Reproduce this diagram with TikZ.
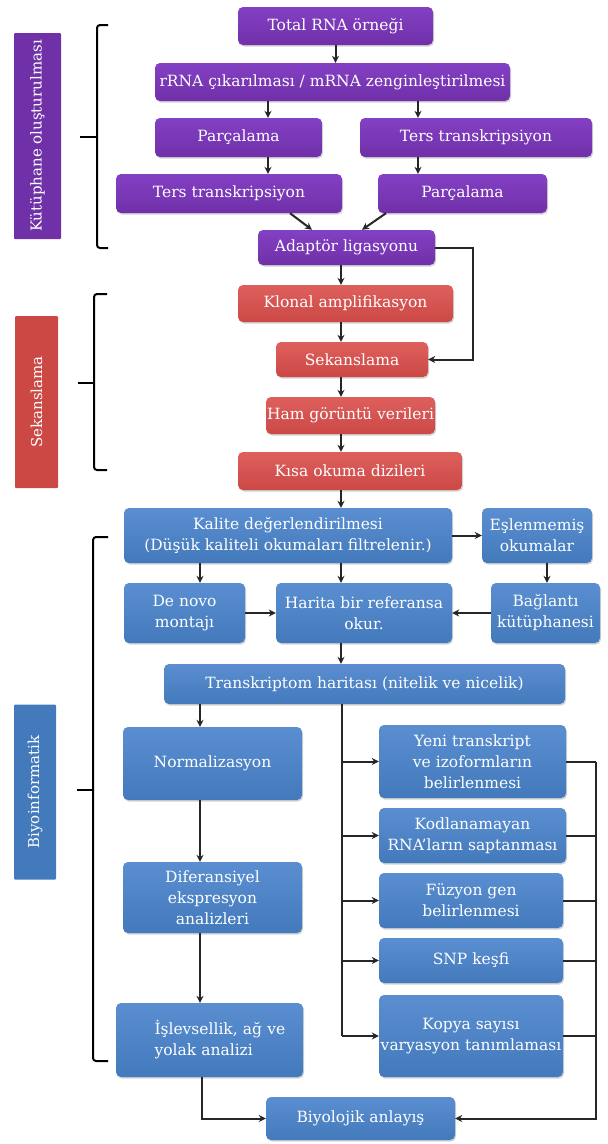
\documentclass[tikz,border=0pt]{standalone}
\usepackage{fontspec}
\setmainfont{DejaVu Serif}
\usetikzlibrary{arrows.meta,shadows}
\definecolor{purp}{HTML}{7030A8}
\definecolor{purpT}{HTML}{8340C4}
\definecolor{redb}{HTML}{CB4845}
\definecolor{redT}{HTML}{DE605D}
\definecolor{blueb}{HTML}{437ABC}
\definecolor{blueT}{HTML}{5A8ED0}
\definecolor{ln}{HTML}{262626}
\newcommand{\zw}[1]{\makebox[0pt][c]{#1}}
\begin{document}
\begin{tikzpicture}[x=1pt,y=-1pt,
  box/.style={rounded corners=5pt, text=white, align=center, inner sep=1pt,
    font=\fontsize{15.5}{21}\selectfont,
    drop shadow={opacity=0.35, shadow xshift=1pt, shadow yshift=-1.5pt}},
  pbox/.style={box, top color=purpT, bottom color=purp},
  rbox/.style={box, top color=redT, bottom color=redb},
  bbox/.style={box, top color=blueT, bottom color=blueb},
  lab/.style={rotate=90, rounded corners=1pt, text=white, inner sep=1pt,
    font=\fontsize{15}{18}\selectfont},
  arr/.style={draw=ln, line width=2pt, -{Stealth[length=7pt,width=7pt]}},
  lin/.style={draw=ln, line width=2pt},
  brk/.style={draw=black, line width=2pt, rounded corners=3pt}]
\useasboundingbox[fill=white] (0,0) rectangle (608,1144);

% guides
\coordinate (g200) at (200,0);
\coordinate (g202) at (202,0);
\coordinate (g268) at (268,0);
\coordinate (g418) at (418,0);
\coordinate (g341) at (341,0);
\coordinate (g342) at (342,0);
\coordinate (g473) at (473,0);
\coordinate (g547) at (547,0);
\coordinate (g596) at (596,0);
\coordinate (g290) at (290,0);
\coordinate (g312) at (312,0);
\coordinate (g386) at (386,0);
\coordinate (g362) at (362,0);

% labels
\node[lab, fill=purp, minimum width=206pt, minimum height=47pt] (lab1) at (37.5,136) {Kütüphane oluşturulması};
\node[lab, fill=redb, minimum width=172pt, minimum height=43pt] (lab2) at (36.5,402) {Sekanslama};
\node[lab, fill=blueb, minimum width=175pt, minimum height=42pt] (lab3) at (35,792) {Biyoinformatik};

% brackets
\draw[brk] (108,25) -- (97,25) -- (97,248) -- (108,248);
\draw[brk] (97,137) -- (80,137);
\draw[brk] (107,294) -- (94,294) -- (94,470) -- (107,470);
\draw[brk] (94,383) -- (78,383);
\draw[brk] (108,537) -- (93,537) -- (93,1061) -- (108,1061);
\draw[brk] (93,790) -- (77,790);

% library prep
\node[pbox, minimum width=195pt, minimum height=38pt] (total) at (335.5,26) {Total RNA örneği};
\node[pbox, minimum width=355pt, minimum height=38pt] (rrna) at (332.5,82) {\zw{rRNA çıkarılması / mRNA zenginleştirilmesi}};
\node[pbox, minimum width=167pt, minimum height=39pt] (parcL) at (238.5,137.5) {Parçalama};
\node[pbox, minimum width=232pt, minimum height=39pt] (tersR) at (476,137.5) {Ters transkripsiyon};
\node[pbox, minimum width=226pt, minimum height=39pt] (tersL) at (229,193.5) {Ters transkripsiyon};
\node[pbox, minimum width=169pt, minimum height=39pt] (parcR) at (462.5,193.5) {Parçalama};
\node[pbox, minimum width=177pt, minimum height=35pt] (adapt) at (346.5,247.5) {Adaptör ligasyonu};

% sequencing
\node[rbox, minimum width=215pt, minimum height=37pt] (klonal) at (345.5,303.5) {Klonal amplifikasyon};
\node[rbox, minimum width=152pt, minimum height=35pt] (sekans) at (352,359.5) {Sekanslama};
\node[rbox, minimum width=169pt, minimum height=37pt] (ham) at (350.5,415.5) {\zw{Ham görüntü verileri}};
\node[rbox, minimum width=224pt, minimum height=38pt] (kisa) at (350,471) {Kısa okuma dizileri};

% bioinformatics
\node[bbox, minimum width=328pt, minimum height=55pt] (kalite) at (288,535.5) {Kalite değerlendirilmesi\\\zw{(Düşük kaliteli okumaları filtrelenir.)}};
\node[bbox, minimum width=110pt, minimum height=55pt] (eslen) at (537,535.5) {\zw{Eşlenmemiş}\\okumalar};
\node[bbox, minimum width=121pt, minimum height=60pt] (denovo) at (184.5,613) {De novo\\montajı};
\node[bbox, minimum width=176pt, minimum height=60pt] (harita) at (364,613) {\zw{Harita bir referansa}\\okur.};
\node[bbox, minimum width=109pt, minimum height=60pt] (baglanti) at (545.5,613) {Bağlantı\\\zw{kütüphanesi}};
\node[bbox, minimum width=401pt, minimum height=40pt] (transk) at (364.5,684) {Transkriptom haritası (nitelik ve nicelik)};
\node[bbox, minimum width=179pt, minimum height=73pt] (norm) at (212.5,763.5) {Normalizasyon};
\node[bbox, minimum width=179pt, minimum height=71pt] (dif) at (212.5,897.5) {Diferansiyel\\ekspresyon\\analizleri};
\node[bbox, minimum width=187pt, minimum height=74pt, align=left, text width=110pt] (isl) at (209.5,1040) {\mbox{İşlevsellik, ağ ve}\\\mbox{yolak analizi}};
\node[bbox, minimum width=187pt, minimum height=73pt] (yeni) at (472.5,761.5) {Yeni transkript\\ve izoformların\\belirlenmesi};
\node[bbox, minimum width=187pt, minimum height=55pt] (kod) at (472.5,835.5) {Kodlanamayan\\\zw{RNA'ların saptanması}};
\node[bbox, minimum width=184pt, minimum height=55pt] (fuz) at (471,900.5) {Füzyon gen\\belirlenmesi};
\node[bbox, minimum width=184pt, minimum height=45pt] (snp) at (471,960.5) {SNP keşfi};
\node[bbox, minimum width=184pt, minimum height=82pt] (kopya) at (471,1036) {Kopya sayısı\\\zw{varyasyon tanımlaması}};
\node[bbox, minimum width=189pt, minimum height=43pt] (biyo) at (360.5,1118.5) {Biyolojik anlayış};

% connectors: library prep
\draw[arr] (total.south) -- (total.south |- rrna.north);
\draw[arr] (g268 |- rrna.south) -- (g268 |- parcL.north);
\draw[arr] (g418 |- rrna.south) -- (g418 |- tersR.north);
\draw[arr] (g268 |- parcL.south) -- (g268 |- tersL.north);
\draw[arr] (g418 |- tersR.south) -- (g418 |- parcR.north);
\draw[arr] (g290 |- tersL.south) -- (g312 |- adapt.north);
\draw[arr] (g386 |- parcR.south) -- (g362 |- adapt.north);
\draw[arr] (g341 |- adapt.south) -- (g341 |- klonal.north);
\draw[arr] (adapt.east) -- (g473 |- adapt.east) |- (sekans.east);

% sequencing
\draw[arr] (g341 |- klonal.south) -- (g341 |- sekans.north);
\draw[arr] (g341 |- sekans.south) -- (g341 |- ham.north);
\draw[arr] (g341 |- ham.south) -- (g341 |- kisa.north);
\draw[arr] (g341 |- kisa.south) -- (g341 |- kalite.north);

% bioinformatics
\draw[arr] (kalite.east) -- (eslen.west);
\draw[arr] (g200 |- kalite.south) -- (g200 |- denovo.north);
\draw[arr] (g341 |- kalite.south) -- (g341 |- harita.north);
\draw[arr] (g547 |- eslen.south) -- (g547 |- baglanti.north);
\draw[arr] (denovo.east) -- (harita.west);
\draw[arr] (baglanti.west) -- (harita.east);
\draw[arr] (g341 |- harita.south) -- (g341 |- transk.north);
\draw[arr] (g200 |- transk.south) -- (g200 |- norm.north);
\draw[arr] (g200 |- norm.south) -- (g200 |- dif.north);
\draw[arr] (g200 |- dif.south) -- (g200 |- isl.north);

\draw[lin] (g342 |- transk.south) -- (g342 |- kopya.west);
\foreach \n in {yeni,kod,fuz,snp,kopya}{
  \draw[arr] (g342 |- \n.west) -- (\n.west);
  \draw[lin] (\n.east) -- (g596 |- \n.east);
}
\draw[arr] (g596 |- yeni.east) -- (g596 |- biyo.east) -- (biyo.east);
\draw[arr] (g202 |- isl.south) |- (biyo.west);
\end{tikzpicture}
\end{document}
